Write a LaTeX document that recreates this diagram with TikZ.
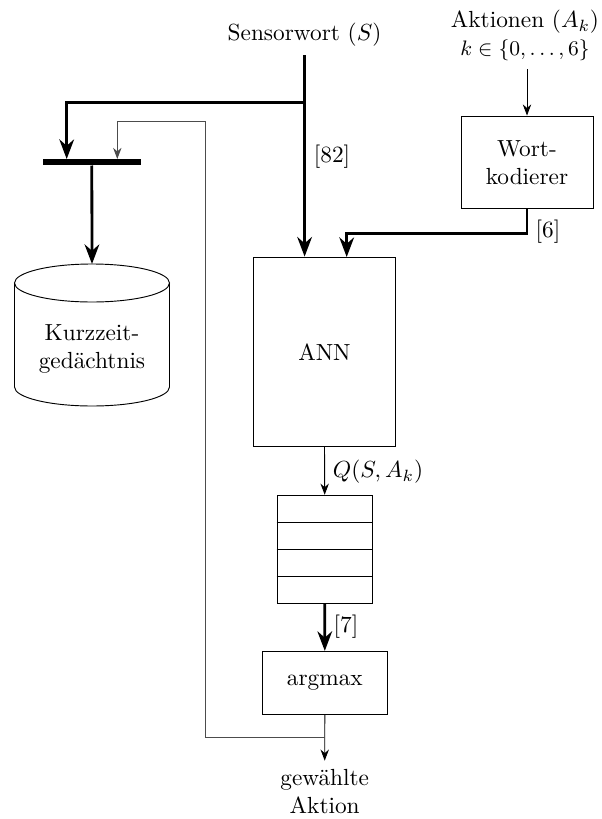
\documentclass[tikz,border=0pt]{standalone}
\usepackage{fontspec}
\usetikzlibrary{arrows.meta,calc}

\begin{document}
\begin{tikzpicture}[x=0.429pt,y=-0.429pt,
  thk/.style={line width=1.2pt,-{Stealth}},
  thn/.style={-{Stealth}},
  feedback/.style={draw=black!70,-{Stealth}},
  blockbox/.style={draw,rectangle,align=center,inner sep=0pt},
  lbl/.style={inner sep=0pt}]
\useasboundingbox (0,0) rectangle (601,819);

% inputs
\node[anchor=south] (sensor) at (304.6,55) {Sensorwort ($S$)};
\node[anchor=south,align=center] (akt) at (525,69)
  {Aktionen ($A_k$)\\{\small $k\in\{0,\dots,6\}$}};

% blocks
\node[blockbox,minimum width=56.6pt,minimum height=39.6pt] (wk) at (527,162.2) {Wort-\\kodierer};
\node[blockbox,minimum width=60.8pt,minimum height=81.4pt] (ann) at (324.5,351.9) {ANN};
\node[blockbox,minimum width=40.9pt,minimum height=46.3pt] (queue) at (324.7,549.2) {};
\node[blockbox,minimum width=53.6pt,minimum height=26.9pt] (argmax) at (324.8,682.7) {argmax};
\node[fill=black,inner sep=0pt,minimum width=42.2pt,minimum height=2.6pt] (bar) at (91.8,162) {};

% queue cells
\foreach \f in {0.25,0.5,0.75}
  \draw ($(queue.north west)!\f!(queue.south west)$) -- ($(queue.north east)!\f!(queue.south east)$);

% short-term memory (cylinder)
\draw (14.5,283) -- (14.5,387)
  arc[start angle=180,end angle=360,x radius=33.25pt,y radius=8.15pt] -- (169.5,283);
\draw (92,283) ellipse [x radius=33.25pt,y radius=8.15pt];
\coordinate (memtop) at (92,264);
\node[align=center] (mem) at (92,349) {Kurzzeit-\\gedächtnis};

% output
\node[anchor=north,align=center] (out) at (324.7,760.7) {gewählte\\Aktion};

% junction points
\coordinate (split) at (304.6,102.3);
\coordinate (barin1) at (66.7,159);
\coordinate (barin2) at (117.3,159);
\coordinate (annin2) at (346.7,257);
\coordinate (join) at (324.7,737.7);
\coordinate (loopcorner) at (205.7,121);

% connectors
\draw[thk] (sensor.south) -- (sensor.south |- ann.north);
\draw[thk] (split) -| (barin1);
\draw[thn] (akt.south -| wk.north) -- (wk.north);
\draw[thk] (wk.south) -- ++(0,24.7) -| (annin2);
\draw[thk] (bar.south) -- (memtop);
\draw[thn] (ann.south) -- (queue.north);
\draw[thk] (queue.south) -- (argmax.north);
\draw[thn] (argmax.south) -- (out.north);
\draw[feedback] (join) -| (loopcorner) -| (barin2);

% labels
\node[lbl] (l82) at (332,157) {[82]};
\node[lbl] (l6) at (548,232) {[6]};
\node[lbl] (lq) at (378,472) {$Q(S,A_k)$};
\node[lbl] (l7) at (346,627) {[7]};
\end{tikzpicture}
\end{document}
